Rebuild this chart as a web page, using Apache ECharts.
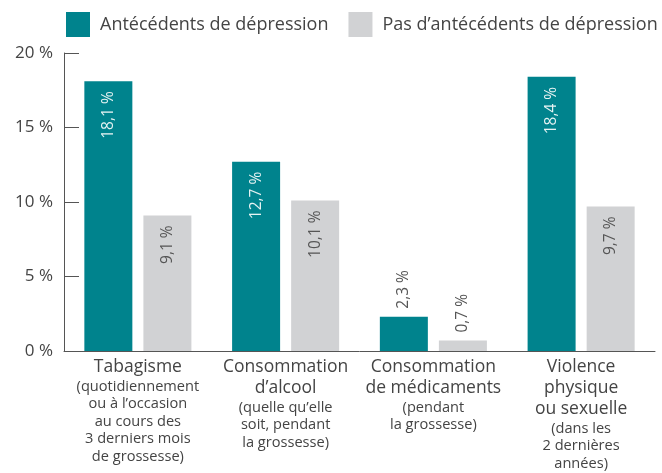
<!DOCTYPE html>
<html>
<head>
<meta charset="utf-8">
<script src="https://cdn.jsdelivr.net/npm/echarts@6/dist/echarts.min.js"></script>
<style>
  html, body { margin: 0; padding: 0; background: #fff; }
  #chart { width: 662px; height: 473px; }
</style>
</head>
<body>
<div id="chart"></div>
<script>
// données
const categories = [
    "Tabagisme",
    "Consommation\nd’alcool",
    "Consommation\nde médicaments",
    "Violence\nphysique\nou sexuelle"
];
const notes = [
    "(quotidiennement\nou à l’occasion\nau cours des\n3 derniers mois\nde grossesse)",
    "(quelle qu’elle\nsoit, pendant\nla grossesse)",
    "(pendant\nla grossesse)",
    "(dans les\n2 dernières\nannées)"
];
const depression = [18.1, 12.7, 2.3, 18.4];
const noDepression = [9.1, 10.1, 0.7, 9.7];
const yTicks = [0, 5, 10, 15, 20];

const teal = '#00838d';
const grey = '#d1d2d4';
const textColor = '#444';
const font = 'Open Sans';

const fmt = v => v.toFixed(1).replace('.', ',') + ' %';

// les petites barres ont l'étiquette au-dessus
function toItems(values, insideColor) {
    return values.map(v => {
        if (v < 5) {
            return {
                value: v,
                label: {position: 'top', align: 'left', distance: 8, color: '#555'}
            };
        }
        return {value: v, label: {color: insideColor}};
    });
}

const labelBase = {
    show: true,
    rotate: 90,
    position: 'insideTop',
    align: 'right',
    verticalAlign: 'middle',
    distance: 10,
    fontSize: 15.5,
    fontFamily: font,
    formatter: p => fmt(p.value)
};

const chart = echarts.init(document.getElementById('chart'));

chart.setOption({
    animation: false,
    textStyle: {fontFamily: font},
    legend: {
        top: 12,
        left: 66,
        padding: 0,
        itemWidth: 24,
        itemHeight: 25,
        itemGap: 20,
        icon: 'rect',
        textStyle: {fontSize: 18, color: textColor, fontFamily: font, padding: [0, 0, 0, 5]},
        data: ['Antécédents de dépression', 'Pas d’antécédents de dépression']
    },
    grid: {left: 64, right: 7, top: 53, bottom: 122, containLabel: false},
    xAxis: {
        type: 'category',
        data: categories,
        axisLine: {lineStyle: {color: '#555', width: 1}},
        axisTick: {inside: true, length: 6, lineStyle: {color: '#555'}},
        axisLabel: {
            interval: 0,
            margin: 6,
            formatter: (val, i) => '{a|' + val.split('\n').join('}\n{a|') + '}\n' +
                '{b|' + notes[i].split('\n').join('}\n{b|') + '}',
            rich: {
                a: {fontSize: 17.5, lineHeight: 21, color: textColor, fontFamily: font},
                b: {fontSize: 14.6, lineHeight: 17.5, color: textColor, fontFamily: font}
            }
        }
    },
    yAxis: {
        type: 'value',
        min: yTicks[0],
        max: yTicks[yTicks.length - 1],
        interval: 5,
        splitLine: {show: false},
        axisLine: {show: true, lineStyle: {color: '#555', width: 1}},
        axisTick: {show: true, inside: true, length: 15, lineStyle: {color: '#555'}},
        axisLabel: {
            formatter: '{value} %',
            fontSize: 17,
            color: textColor,
            margin: 11,
            fontFamily: font
        }
    },
    series: [
        {
            name: 'Antécédents de dépression',
            type: 'bar',
            barWidth: 48,
            barGap: '23%',
            itemStyle: {color: teal},
            label: labelBase,
            data: toItems(depression, '#e6f3f3')
        },
        {
            name: 'Pas d’antécédents de dépression',
            type: 'bar',
            barWidth: 48,
            itemStyle: {color: grey},
            label: labelBase,
            data: toItems(noDepression, '#555')
        }
    ]
});
</script>
</body>
</html>
